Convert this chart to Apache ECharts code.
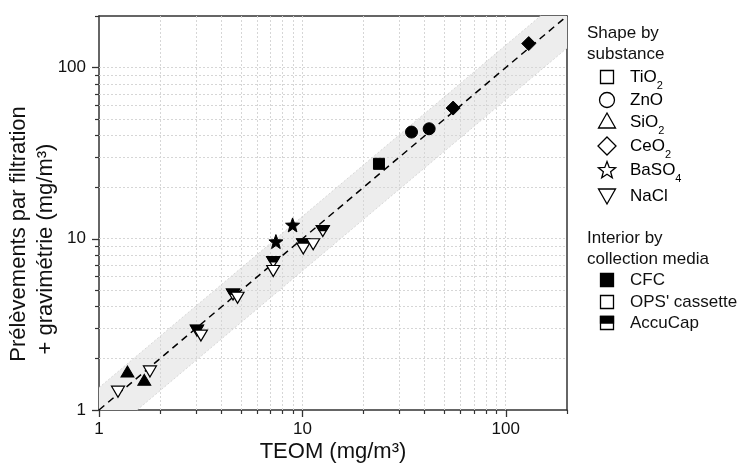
<!DOCTYPE html>
<html><head><meta charset="utf-8">
<script src="https://cdn.jsdelivr.net/npm/echarts@6/dist/echarts.min.js"></script>
<style>html,body{margin:0;padding:0;background:#fff}#c{width:738px;height:463px}</style>
</head><body><div id="c"></div>
<script>
// ---------- data ----------
const axisMin = 1, axisMax = 200;
const majorTicks = [1, 10, 100];
const minorTicks = [2,3,4,5,6,7,8,9,20,30,40,50,60,70,80,90,200];
const gridValues = [2,3,4,5,6,7,8,9,10,20,30,40,50,60,70,80,90,100];
const bandFactors = [1.35, 0.65];
const identityLine = [[1, 1], [200, 200]];

const sio2CFC     = [[1.38, 1.68], [1.67, 1.50]];
const naclAccuCap = [[3.03, 2.91], [4.56, 4.73], [7.19, 7.31], [10.1, 9.29], [12.6, 11.1]];
const naclOPS     = [[1.24, 1.28], [1.78, 1.68], [3.17, 2.72], [4.80, 4.52], [7.19, 6.48], [10.1, 8.76], [11.3, 9.29]];
const baso4CFC    = [[7.41, 9.63], [8.95, 12.05]];
const tio2CFC     = [[23.8, 27.4]];
const znoCFC      = [[34.4, 42.0], [42.0, 43.9]];
const ceo2CFC     = [[55.1, 58.0], [129.7, 138]];

const shapeTitle = ['Shape by', 'substance'];
const substanceLabels = [['TiO','2'],['ZnO',''],['SiO','2'],['CeO','2'],['BaSO','4'],['NaCl','']];
const mediaTitle = ['Interior by', 'collection media'];
const mediaLabels = ['CFC', "OPS' cassette", 'AccuCap'];
const xTitle = 'TEOM (mg/m³)';
const yTitle = ['Prélèvements par filtration', '+ gravimétrie (mg/m³)'];

// ---------- helpers ----------
const FONT = "'Liberation Sans', Arial, sans-serif";
const INK = '#111';
function starPoints(cx, cy, R, r) {
  const pts = [];
  for (let i = 0; i < 10; i++) {
    const a = -Math.PI / 2 + i * Math.PI / 5;
    const rad = i % 2 === 0 ? R : r;
    pts.push([cx + rad * Math.cos(a), cy + rad * Math.sin(a)]);
  }
  return pts;
}
const starPath = 'path://' + starPoints(1, 1, 1, 0.42).map((p, i) => (i ? 'L' : 'M') + p[0].toFixed(4) + ',' + p[1].toFixed(4)).join(' ') + ' Z';
const triUp = 'path://M1,0 L2,1.732 L0,1.732 Z';
const triDown = 'path://M0,0 L2,0 L1,1.732 Z';
const triDownTopHalf = 'path://M0,0 L2,0 L1.5,0.866 L0.5,0.866 Z';

const filled = { color: '#000', borderColor: '#000', borderWidth: 1, opacity: 1 };
const open = { color: '#fff', borderColor: '#000', borderWidth: 1.2, opacity: 1 };

function scatter(data, symbol, size, style, z, extra) {
  return Object.assign({ type: 'scatter', data, symbol, symbolSize: size, itemStyle: style, z, silent: true, animation: false }, extra || {});
}
const crisp = v => Math.round(v - 0.5) + 0.5;

// ---------- legend graphics ----------
const graphic = [];
const txt = (text, x, y, extra) => Object.assign({ type: 'text', x, y, style: Object.assign({ text, font: '17px ' + FONT, fill: INK, textAlign: 'left', textVerticalAlign: 'middle' }, extra || {}) });
graphic.push(txt(shapeTitle[0], 587, 33));
graphic.push(txt(shapeTitle[1], 587, 54));
const rowY = [77, 100, 122, 146, 170, 196];
const ix = 607;
const iconStyle = { fill: '#fff', stroke: '#000', lineWidth: 1.3 };
rowY.forEach((y, i) => {
  const lab = substanceLabels[i];
  graphic.push({ type: 'text', x: 630, y: y + 3, style: {
    text: '{n|' + lab[0] + '}' + (lab[1] ? '{s|' + lab[1] + '}' : ''),
    textAlign: 'left', textVerticalAlign: 'middle',
    rich: { n: { fontSize: 17, fontFamily: FONT, color: INK, lineHeight: 22, verticalAlign: 'top' },
            s: { fontSize: 11, fontFamily: FONT, color: INK, lineHeight: 10, verticalAlign: 'bottom' } } } });
});
graphic.push({ type: 'rect', shape: { x: ix - 6.5, y: rowY[0] - 6.5, width: 13, height: 13 }, style: iconStyle });
graphic.push({ type: 'circle', shape: { cx: ix, cy: rowY[1], r: 7.5 }, style: iconStyle });
graphic.push({ type: 'polygon', shape: { points: [[ix, rowY[2] - 9], [ix + 8.5, rowY[2] + 6], [ix - 8.5, rowY[2] + 6]] }, style: iconStyle });
graphic.push({ type: 'polygon', shape: { points: [[ix, rowY[3] - 9], [ix + 9, rowY[3]], [ix, rowY[3] + 9], [ix - 9, rowY[3]]] }, style: iconStyle });
graphic.push({ type: 'polygon', shape: { points: starPoints(ix, rowY[4] + 0.5, 9, 3.8) }, style: iconStyle });
graphic.push({ type: 'polygon', shape: { points: [[ix - 8.5, rowY[5] - 7], [ix + 8.5, rowY[5] - 7], [ix, rowY[5] + 8]] }, style: iconStyle });

graphic.push(txt(mediaTitle[0], 587, 238));
graphic.push(txt(mediaTitle[1], 587, 259));
const mRowY = [280, 302, 323];
mediaLabels.forEach((m, i) => graphic.push(txt(m, 630, mRowY[i])));
graphic.push({ type: 'rect', shape: { x: ix - 6.5, y: mRowY[0] - 6.5, width: 13, height: 13 }, style: { fill: '#000', stroke: '#000', lineWidth: 1.3 } });
graphic.push({ type: 'rect', shape: { x: ix - 6.5, y: mRowY[1] - 6.5, width: 13, height: 13 }, style: iconStyle });
graphic.push({ type: 'rect', shape: { x: ix - 6.5, y: mRowY[2] - 6.5, width: 13, height: 13 }, style: iconStyle });
graphic.push({ type: 'rect', shape: { x: ix - 6.5, y: mRowY[2] - 6.5, width: 13, height: 6.5 }, style: { fill: '#000', stroke: '#000', lineWidth: 1.3 } });

// axis titles
graphic.push({ type: 'text', x: 333, y: 452, style: { text: xTitle, font: '22px ' + FONT, fill: INK, textAlign: 'center', textVerticalAlign: 'middle' } });
graphic.push({ type: 'text', x: 19, y: 234, rotation: Math.PI / 2, style: { text: yTitle[0], font: '22px ' + FONT, fill: INK, textAlign: 'center', textVerticalAlign: 'middle' } });
graphic.push({ type: 'text', x: 46, y: 249, rotation: Math.PI / 2, style: { text: yTitle[1], font: '22px ' + FONT, fill: INK, textAlign: 'center', textVerticalAlign: 'middle' } });

// ---------- axes ----------
const isDecade = v => majorTicks.some(t => Math.abs(t - v) < 1e-6 * t);
function mainAxis(pos) {
  return {
    type: 'log', logBase: 10, min: axisMin, max: axisMax, position: pos,
    axisLine: { show: true, onZero: false, lineStyle: { color: '#333', width: 1.5 } },
    axisTick: { show: true, inside: false, length: 7, lineStyle: { color: '#333', width: 1.3 } },
    axisLabel: { show: true, fontSize: 17, fontFamily: FONT, color: INK, margin: pos === 'bottom' ? 11 : 13,
      formatter: v => isDecade(v) ? String(Math.round(v)) : '' , showMaxLabel: false },
    splitLine: { show: false }, minorTick: { show: false }, minorSplitLine: { show: false }
  };
}
function borderAxis(pos) {
  return { type: 'log', logBase: 10, min: axisMin, max: axisMax, position: pos,
    axisLine: { show: true, onZero: false, lineStyle: { color: '#333', width: 1.5 } },
    axisTick: { show: false }, axisLabel: { show: false }, splitLine: { show: false } };
}

// ---------- series ----------
const series = [];
series.push({ type: 'custom', coordinateSystem: 'cartesian2d', data: [[axisMin, axisMin]], encode: { x: 0, y: 1 }, z: 1, silent: true, animation: false,
  renderItem(params, api) {
    const [up, lo] = bandFactors;
    const poly = [[axisMin, axisMin], [axisMin, axisMin * up], [axisMax / up, axisMax], [axisMax, axisMax], [axisMax, axisMax * lo], [axisMin / lo, axisMin]].map(p => api.coord(p));
    const e1 = [[axisMin, axisMin * up], [axisMax / up, axisMax]].map(p => api.coord(p));
    const e2 = [[axisMin / lo, axisMin], [axisMax, axisMax * lo]].map(p => api.coord(p));
    return { type: 'group', children: [
      { type: 'polygon', shape: { points: poly }, style: { fill: '#ededed', stroke: null } },
      { type: 'polyline', shape: { points: e1 }, style: { stroke: '#d8d8d8', lineWidth: 1, lineDash: [2, 2], fill: null } },
      { type: 'polyline', shape: { points: e2 }, style: { stroke: '#d8d8d8', lineWidth: 1, lineDash: [2, 2], fill: null } }
    ] };
  } });
series.push({ type: 'custom', coordinateSystem: 'cartesian2d', data: gridValues.map(v => [v, axisMin]), encode: { x: 0, y: 1 }, z: 2, silent: true, animation: false,
  renderItem(params, api) {
    const v = api.value(0); const a = api.coord([v, axisMin]); const b = api.coord([v, axisMax]);
    const x = crisp(a[0]);
    return { type: 'line', shape: { x1: x, y1: a[1], x2: x, y2: b[1] }, style: { stroke: '#d6d6d6', lineWidth: 1, lineDash: [2, 2] } };
  } });
series.push({ type: 'custom', coordinateSystem: 'cartesian2d', data: gridValues.map(v => [axisMin, v]), encode: { x: 0, y: 1 }, z: 2, silent: true, animation: false,
  renderItem(params, api) {
    const v = api.value(1); const a = api.coord([axisMin, v]); const b = api.coord([axisMax, v]);
    const y = crisp(a[1]);
    return { type: 'line', shape: { x1: a[0], y1: y, x2: b[0], y2: y }, style: { stroke: '#d6d6d6', lineWidth: 1, lineDash: [2, 2] } };
  } });
series.push({ type: 'custom', coordinateSystem: 'cartesian2d', clip: false, data: minorTicks.map(v => [v, axisMin]), encode: { x: 0, y: 1 }, z: 5, silent: true, animation: false,
  renderItem(params, api) {
    const a = api.coord([api.value(0), axisMin]); const x = crisp(a[0]);
    return { type: 'line', shape: { x1: x, y1: a[1], x2: x, y2: a[1] + 4 }, style: { stroke: '#333', lineWidth: 1.2 } };
  } });
series.push({ type: 'custom', coordinateSystem: 'cartesian2d', clip: false, data: minorTicks.map(v => [axisMin, v]), encode: { x: 0, y: 1 }, z: 5, silent: true, animation: false,
  renderItem(params, api) {
    const a = api.coord([axisMin, api.value(1)]); const y = crisp(a[1]);
    return { type: 'line', shape: { x1: a[0], y1: y, x2: a[0] - 4, y2: y }, style: { stroke: '#333', lineWidth: 1.2 } };
  } });
series.push({ type: 'line', data: identityLine, symbol: 'none', z: 3, silent: true, animation: false,
  lineStyle: { color: '#000', width: 1.5, type: [7, 5] } });
series.push(scatter(sio2CFC, triUp, [13, 11], filled, 10));
series.push(scatter(naclAccuCap, triDown, [13, 11], open, 10));
series.push(scatter(naclAccuCap, triDownTopHalf, [13, 5.5], filled, 11, { symbolOffset: [0, -2.75] }));
series.push(scatter(naclOPS, triDown, [13, 11], open, 12));
series.push(scatter(baso4CFC, starPath, 14, filled, 10));
series.push(scatter(tio2CFC, 'rect', 11, filled, 10));
series.push(scatter(znoCFC, 'circle', 12, filled, 10));
series.push(scatter(ceo2CFC, 'diamond', 14, filled, 10));

const chart = echarts.init(document.getElementById('c'), null, { renderer: 'canvas' });
chart.setOption({
  animation: false,
  backgroundColor: '#fff',
  grid: { left: 99, top: 16, width: 468, height: 394, containLabel: false, outerBoundsMode: 'none' },
  xAxis: [mainAxis('bottom'), borderAxis('top')],
  yAxis: [mainAxis('left'), borderAxis('right')],
  series,
  graphic
});
</script></body></html>
